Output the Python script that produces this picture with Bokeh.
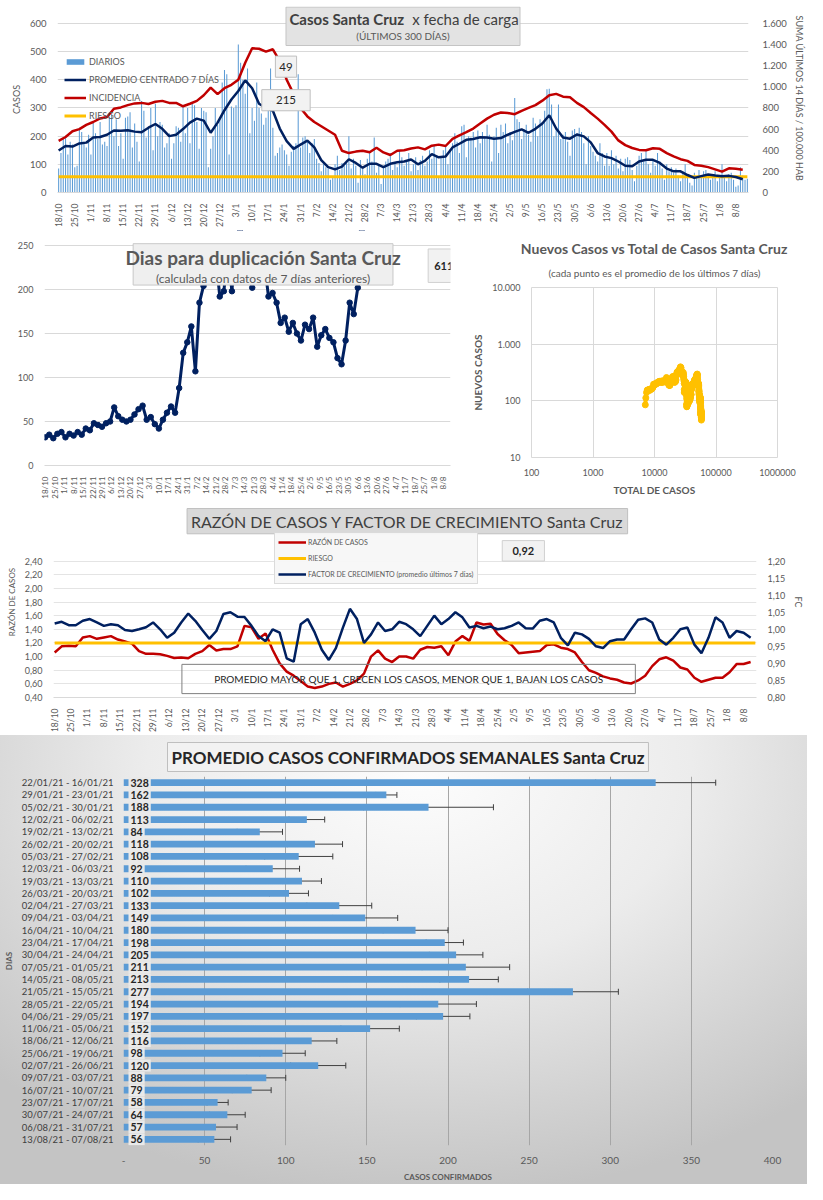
import math
import numpy as np
from bokeh.plotting import figure
from bokeh.models import (ColumnDataSource, LinearAxis, Range1d, FixedTicker, Label,
                          BoxAnnotation, Legend, LegendItem, Whisker, TeeHead, Title, FactorRange)
from bokeh.layouts import column, row
from bokeh.embed import file_html
from bokeh.resources import INLINE
from bokeh.core.properties import value

# ---------------- DATA ----------------
TICK_LABELS = ["18/10", "25/10", "1/11", "8/11", "15/11", "22/11", "29/11", "6/12", "13/12", "20/12",
               "27/12", "3/1", "10/1", "17/1", "24/1", "31/1", "7/2", "14/2", "21/2", "28/2",
               "7/3", "14/3", "21/3", "28/3", "4/4", "11/4", "18/4", "25/4", "2/5", "9/5",
               "16/5", "23/5", "30/5", "6/6", "13/6", "20/6", "27/6", "4/7", "11/7", "18/7",
               "25/7", "1/8", "8/8"]

# daily cases (one per day, 18/10/2020 ... 13/08/2021)
DIARIOS = [
    85, 140, 195, 200, 135, 180, 170,
    90, 95, 230, 215, 180, 160, 205,
    135, 250, 210, 190, 250, 170, 180,
    165, 270, 280, 200, 260, 165, 210,
    120, 265, 270, 285, 160, 245, 180,
    110, 325, 290, 195, 230, 300, 150,
    315, 200, 250, 240, 160, 175, 210,
    120, 175, 235, 230, 180, 310, 210,
    300, 175, 320, 310, 250, 155, 300,
    290, 285, 90, 155, 200, 300, 240,
    260, 390, 435, 420, 135, 305, 300,
    310, 525, 460, 400, 350, 440, 210,
    300, 255, 390, 300, 280, 240, 265,
    290, 440, 230, 130, 140, 160, 170,
    150, 135, 95, 145, 165, 175, 420,
    160, 195, 200, 180, 140, 175, 190,
    120, 105, 75, 100, 90, 85, 45,
    55, 100, 130, 80, 105, 95, 110,
    200, 85, 120, 95, 35, 115, 90,
    65, 120, 145, 110, 195, 70, 100,
    30, 95, 110, 120, 140, 80, 105,
    90, 150, 125, 95, 110, 140, 75,
    100, 125, 80, 115, 130, 95, 110,
    150, 120, 165, 130, 55, 125, 150,
    165, 100, 155, 175, 210, 180, 140,
    235, 240, 125, 200, 195, 215, 160,
    220, 175, 215, 200, 240, 205, 110,
    200, 230, 140, 240, 215, 245, 175,
    215, 185, 335, 260, 250, 190, 225,
    240, 205, 180, 265, 245, 200, 260,
    250, 290, 366, 368, 312, 200, 230,
    312, 190, 205, 215, 180, 130, 220,
    225, 210, 230, 215, 175, 100, 200,
    165, 145, 130, 110, 175, 140, 95,
    140, 95, 150, 100, 130, 85, 120,
    75, 120, 125, 115, 80, 40, 95,
    130, 140, 110, 150, 100, 70, 115,
    95, 140, 110, 85, 45, 100, 75,
    90, 70, 85, 60, 40, 75, 100,
    65, 35, 25, 70, 55, 80, 60,
    75, 80, 55, 45, 65, 75, 40,
    55, 100, 55, 40, 65, 70, 45,
    20, 25, 90, 60, 45, 49]

# series read every 3 days (day 0, 3, 6, ...)
PROMEDIO = [149, 165, 163, 174, 177, 195, 197, 205, 220, 219,
            221, 216, 214, 230, 243, 226, 200, 205, 225, 248,
            262, 255, 212, 248, 292, 330, 360, 398, 370, 315,
            300, 290, 227, 182, 155, 170, 184, 160, 115, 90,
            82, 92, 118, 105, 88, 102, 102, 90, 102, 107,
            110, 117, 100, 112, 136, 125, 128, 160, 173, 187,
            190, 196, 195, 191, 193, 205, 215, 224, 212, 226,
            245, 274, 227, 195, 191, 206, 199, 178, 140, 128,
            122, 110, 95, 93, 110, 116, 116, 105, 85, 75,
            75, 62, 52, 58, 64, 60, 58, 59, 55, 47]

INCIDENCIA = [488, 525, 579, 600, 640, 667, 701, 715, 792, 805,
              827, 843, 848, 837, 859, 867, 848, 848, 816, 840,
              867, 920, 992, 931, 987, 1019, 1067, 1227, 1365, 1360,
              1333, 1355, 1243, 1067, 933, 800, 720, 667, 627, 587,
              547, 395, 373, 387, 395, 381, 424, 379, 355, 395,
              400, 416, 427, 408, 443, 453, 440, 507, 541, 571,
              605, 653, 699, 736, 757, 752, 741, 773, 800, 827,
              869, 920, 933, 907, 901, 848, 808, 752, 699, 640,
              576, 493, 448, 421, 403, 400, 419, 413, 373, 341,
              315, 299, 261, 253, 240, 219, 197, 229, 224, 215]
RIESGO_INC = 150

DUPLICACION = [32, 35, 31, 36, 38, 32, 36, 34, 38, 35,
               42, 40, 48, 46, 44, 48, 50, 66, 56, 52,
               50, 52, 58, 64, 68, 52, 55, 47, 42, 52,
               60, 67, 60, 88, 128, 140, 158, 107, 185, 204,
               230, 260, 240, 192, 198, 240, 198, 260, 280, 240,
               215, 202, 230, 250, 230, 192, 196, 185, 162, 168,
               152, 162, 150, 142, 160, 155, 168, 135, 148, 155,
               145, 140, 122, 115, 142, 185, 172, 202, 611]

TOTAL_INICIAL = 7000

RAZON = [1.06, 1.15, 1.16, 1.15, 1.28, 1.30, 1.26, 1.28, 1.30, 1.25,
         1.22, 1.19, 1.08, 1.04, 1.04, 1.035, 1.01, 0.98, 0.985, 0.975,
         1.04, 1.08, 1.17, 1.09, 1.11, 1.11, 1.15, 1.45, 1.43, 1.26,
         1.34, 1.10, 0.90, 0.78, 0.72, 0.64, 0.56, 0.54, 0.56, 0.60,
         0.62, 0.56, 0.60, 0.65, 0.75, 1.00, 1.09, 0.97, 0.92, 1.00,
         1.00, 0.97, 1.10, 1.14, 1.13, 1.15, 1.02, 1.22, 1.30, 1.23,
         1.50, 1.47, 1.48, 1.33, 1.24, 1.17, 1.05, 1.06, 1.07, 1.08,
         1.17, 1.18, 1.13, 1.11, 1.06, 0.92, 0.80, 0.76, 0.71, 0.68,
         0.66, 0.62, 0.605, 0.65, 0.72, 0.86, 0.96, 0.99, 0.94, 0.84,
         0.81, 0.69, 0.63, 0.66, 0.69, 0.69, 0.77, 0.89, 0.89, 0.92]

FACTOR = [1.017, 1.022, 1.012, 1.012, 1.025, 1.030, 1.020, 1.010, 1.015, 1.012,
          0.998, 0.995, 1.000, 1.006, 1.020, 1.000, 0.975, 0.990, 1.020, 1.046,
          1.025, 0.998, 0.972, 0.995, 1.045, 1.050, 1.037, 1.036, 1.010, 0.980,
          0.965, 1.000, 0.990, 0.915, 0.905, 1.015, 1.030, 0.990, 0.940, 0.910,
          0.945, 1.005, 1.060, 1.030, 0.960, 0.985, 1.020, 0.995, 1.000, 1.022,
          1.015, 1.000, 0.980, 1.010, 1.040, 1.015, 1.030, 1.050, 1.035, 1.005,
          1.010, 1.003, 1.008, 1.000, 1.003, 1.010, 1.020, 1.003, 1.002, 1.025,
          1.030, 1.020, 0.975, 0.953, 0.990, 0.985, 0.972, 0.950, 0.945, 0.965,
          0.970, 0.970, 1.000, 1.028, 1.032, 1.020, 0.970, 0.955, 0.975, 1.000,
          1.005, 0.955, 0.930, 0.975, 1.035, 1.020, 0.975, 0.995, 0.990, 0.975]
RIESGO_RAZON = 1.20

SEMANAS = ["22/01/21 - 16/01/21", "29/01/21 - 23/01/21", "05/02/21 - 30/01/21", "12/02/21 - 06/02/21",
           "19/02/21 - 13/02/21", "26/02/21 - 20/02/21", "05/03/21 - 27/02/21", "12/03/21 - 06/03/21",
           "19/03/21 - 13/03/21", "26/03/21 - 20/03/21", "02/04/21 - 27/03/21", "09/04/21 - 03/04/21",
           "16/04/21 - 10/04/21", "23/04/21 - 17/04/21", "30/04/21 - 24/04/21", "07/05/21 - 01/05/21",
           "14/05/21 - 08/05/21", "21/05/21 - 15/05/21", "28/05/21 - 22/05/21", "04/06/21 - 29/05/21",
           "11/06/21 - 05/06/21", "18/06/21 - 12/06/21", "25/06/21 - 19/06/21", "02/07/21 - 26/06/21",
           "09/07/21 - 03/07/21", "16/07/21 - 10/07/21", "23/07/21 - 17/07/21", "30/07/21 - 24/07/21",
           "06/08/21 - 31/07/21", "13/08/21 - 07/08/21"]
PROM_SEMANAL = [328, 162, 188, 113, 84, 118, 108, 92, 110, 102, 133, 149, 180, 198, 205,
                211, 213, 277, 194, 197, 152, 116, 98, 120, 88, 79, 58, 64, 57, 56]
ERR_SEMANAL = [37, 6.5, 40, 11, 14, 17, 21, 16.5, 12, 12, 20, 20, 20, 11.5, 16.5,
               27, 18, 28, 23.5, 16.5, 18, 15.5, 14, 17, 12, 12, 6.5, 11, 13, 10]

# ---------------- STYLE ----------------
FONT = "Lato"
GRAY_TXT = "#595959"
DARK_TXT = "#404040"
GRID = "#d9d9d9"
BLUE_BAR = "#5B9BD5"
NAVY = "#002060"
RED = "#C00000"
YELLOW = "#FFC000"

N = len(DIARIOS)
dias = list(range(N))
d3 = [3 * i for i in range(len(PROMEDIO))]
date_ticks = [7 * i for i in range(len(TICK_LABELS))]


def base_fig(**kw):
    p = figure(output_backend="svg", toolbar_location=None, **kw)
    p.outline_line_color = None
    p.background_fill_color = "white"
    p.border_fill_color = "white"
    try:
        p.frame_align = False
    except Exception:
        pass
    return p


def style_axis(ax, size="9px"):
    ax.major_label_text_font = FONT
    ax.major_label_text_font_size = size
    ax.major_label_text_color = GRAY_TXT
    ax.axis_label_text_font = FONT
    ax.axis_label_text_color = GRAY_TXT
    ax.axis_label_text_font_style = "normal"
    ax.axis_label_text_font_size = "9px"
    ax.major_tick_line_color = None
    ax.minor_tick_line_color = None
    ax.axis_line_color = None


def date_axis(p, size="8.5px"):
    ax = p.xaxis[0]
    ax.ticker = FixedTicker(ticks=date_ticks)
    ax.major_label_overrides = {t: l for t, l in zip(date_ticks, TICK_LABELS)}
    ax.major_label_orientation = math.pi / 2
    style_axis(ax, size)
    ax.axis_line_color = GRID
    p.xgrid.visible = False


def frame_box(p, left, right, bottom, top, fill="#f2f2f2", border="#bfbfbf"):
    p.add_layout(BoxAnnotation(left=left, right=right, bottom=bottom, top=top,
                               fill_color=fill if fill else "white", fill_alpha=1 if fill else 0,
                               line_color=border if border else "white", line_alpha=1 if border else 0,
                               line_width=1))


def text_box(p, left, right, bottom, top, text, size="11px", bold=False, fill="#f2f2f2",
             border="#bfbfbf", color="#262626"):
    """A framed callout: a box and its centered text."""
    frame_box(p, left, right, bottom, top, fill, border)
    p.add_layout(Label(x=(left + right) / 2, y=(bottom + top) / 2, text=text, text_align="center",
                       text_baseline="middle", text_font=FONT, text_font_size=size, text_color=color,
                       text_font_style="bold" if bold else "normal"))


# ---------------- P1: Casos ----------------
p1 = base_fig(width=807, height=230, x_range=Range1d(-0.5, N - 0.5), y_range=Range1d(0, 660),
              min_border_left=57, min_border_right=50, min_border_top=6, min_border_bottom=30)
p1.extra_y_ranges = {"inc": Range1d(0, 660 * 1600 / 600)}
r_bar = p1.vbar(x=dias, top=DIARIOS, width=0.45, fill_color=BLUE_BAR, line_color=None)
r_inc = p1.line(d3, INCIDENCIA, y_range_name="inc", line_color=RED, line_width=2.5)
r_riesgo = p1.line([dias[0], dias[-1]], [RIESGO_INC, RIESGO_INC], y_range_name="inc",
                   line_color=YELLOW, line_width=3)
r_prom = p1.line(d3, PROMEDIO, line_color=NAVY, line_width=2.5)

date_axis(p1)
lax = p1.yaxis[0]
lax.ticker = FixedTicker(ticks=list(range(0, 601, 100)))
lax.bounds = (0, 600)
lax.axis_label = "CASOS"
style_axis(lax, "9.5px")
p1.ygrid.ticker = FixedTicker(ticks=list(range(0, 601, 100)))
p1.ygrid.grid_line_color = GRID

rticks = list(range(0, 1601, 200))
rax = LinearAxis(y_range_name="inc", ticker=FixedTicker(ticks=rticks), bounds=(0, 1600),
                 axis_label="SUMA  ÚLTIMOS 14 DÍAS / 100.000 HAB")
rax.major_label_overrides = {t: f"{t:,}".replace(",", ".") for t in rticks}
style_axis(rax, "9.5px")
rax.major_label_standoff = 8
rax.axis_label_standoff = 4
p1.add_layout(rax, "right")

leg1 = Legend(items=[LegendItem(label="DIARIOS", renderers=[r_bar]),
                     LegendItem(label="PROMEDIO CENTRADO 7 DÍAS", renderers=[r_prom]),
                     LegendItem(label="INCIDENCIA", renderers=[r_inc]),
                     LegendItem(label="RIESGO", renderers=[r_riesgo])],
              location=(7, 70), padding=0, margin=0, spacing=4, label_height=14, glyph_height=7,
              glyph_width=22, label_standoff=3, background_fill_alpha=0, border_line_color=None,
              label_text_font=FONT, label_text_font_size="9px", label_text_color=GRAY_TXT)
p1.add_layout(leg1)

frame_box(p1, 98.7, 200.3, 521.6, 658, fill="#e3e3e3", border="#c4c4c4")
p1.add_layout(Label(x=100.2, y=614, text="Casos  Santa  Cruz", text_font=FONT, text_font_size="15px",
                    text_font_style="bold", text_color=DARK_TXT, text_baseline="middle", text_align="left"))
p1.add_layout(Label(x=153.5, y=614, text="x fecha de carga", text_font=FONT, text_font_size="15px",
                    text_color=DARK_TXT, text_baseline="middle", text_align="left"))
p1.add_layout(Label(x=149.5, y=556, text="(ÚLTIMOS 300 DÍAS)", text_font=FONT, text_font_size="10px",
                    text_color=GRAY_TXT, text_baseline="middle", text_align="center"))
text_box(p1, 94.1, 103.3, 409, 484, str(DIARIOS[-1]), size="11.5px")
text_box(p1, 88.2, 109.2, 290, 365, str(INCIDENCIA[-1]), size="11.5px")

# ---------------- P2: duplicacion ----------------
DUP_TOP = 267
dd = [3 * i for i in range(len(DUPLICACION))]
dup_visible = np.minimum(np.array(DUPLICACION, dtype=float), DUP_TOP - 1)  # off-scale values sit at the top
p2 = base_fig(width=462, height=273, x_range=Range1d(-0.5, N - 0.5), y_range=Range1d(0, DUP_TOP),
              min_border_left=44, min_border_right=12, min_border_top=0, min_border_bottom=38)
p2.line(dd, dup_visible, line_color=NAVY, line_width=3)
p2.scatter(dd, dup_visible, size=5.5, fill_color=NAVY, line_color=NAVY)
date_axis(p2, "8px")
ax2 = p2.yaxis[0]
ax2.ticker = FixedTicker(ticks=list(range(0, 251, 50)))
style_axis(ax2, "9px")
p2.ygrid.ticker = FixedTicker(ticks=list(range(0, 251, 50)))
p2.ygrid.grid_line_color = GRID
# off-scale values are hidden behind the title panel, as in the original
frame_box(p2, 60, 262, 250.5, DUP_TOP, fill="white", border=None)
frame_box(p2, 65, 257, 205, 252, fill="#efefef", border="#c8c8c8")
p2.add_layout(Label(x=161, y=236, text="Dias para duplicación Santa Cruz", text_font=FONT,
                    text_font_size="19px", text_font_style="bold", text_color=GRAY_TXT,
                    text_align="center", text_baseline="middle"))
p2.add_layout(Label(x=161, y=213, text="(calculada con datos de 7 días anteriores)", text_font=FONT,
                    text_font_size="12px", text_color=GRAY_TXT, text_align="center", text_baseline="middle"))
text_box(p2, 283, 306, 208, 246, str(DUPLICACION[-1]), size="11px", bold=True, border="#d0d0d0")

# ---------------- P3: scatter log-log ----------------
arr = np.array(DIARIOS, dtype=float)
total = TOTAL_INICIAL + np.cumsum(arr)
nuevos = np.array([arr[max(0, i - 6):i + 1].mean() for i in range(len(arr))])
p3 = base_fig(width=345, height=273, x_axis_type="log", y_axis_type="log",
              x_range=Range1d(100, 1e6), y_range=Range1d(10, 1e4),
              min_border_left=69, min_border_right=30, min_border_top=57, min_border_bottom=46)
p3.outline_line_color = GRID
p3.line(total, nuevos, line_color=YELLOW, line_width=4)
p3.scatter(total, nuevos, size=6, fill_color=YELLOW, line_color=YELLOW)
xt = [100, 1000, 10000, 100000, 1000000]
yt = [10, 100, 1000, 10000]
p3.xaxis[0].ticker = FixedTicker(ticks=xt)
p3.xaxis[0].major_label_overrides = {t: str(t) for t in xt}
p3.yaxis[0].ticker = FixedTicker(ticks=yt)
p3.yaxis[0].major_label_overrides = {t: f"{t:,}".replace(",", ".") for t in yt}
for ax in (p3.xaxis[0], p3.yaxis[0]):
    style_axis(ax, "9px")
    ax.axis_label_text_font_style = "bold"
    ax.axis_label_text_font_size = "10px"
p3.xaxis[0].axis_label = "TOTAL DE CASOS"
p3.yaxis[0].axis_label = "NUEVOS CASOS"
p3.xgrid.ticker = FixedTicker(ticks=xt)
p3.ygrid.ticker = FixedTicker(ticks=yt)
p3.xgrid.grid_line_color = GRID
p3.ygrid.grid_line_color = GRID
p3.title.text = "Nuevos Casos vs Total de Casos Santa Cruz"
p3.title.align = "center"
p3.title.offset = -19
p3.title.standoff = 0
p3.title.text_font = FONT
p3.title.text_font_size = "14px"
p3.title.text_font_style = "bold"
p3.title.text_color = GRAY_TXT
p3.add_layout(Title(text="(cada punto es el promedio de los últimos 7 días)", align="center", offset=-19,
                    standoff=17, text_font=FONT, text_font_size="10px", text_font_style="normal",
                    text_color=GRAY_TXT), "above")

# ---------------- P4: razon / factor ----------------
p4 = base_fig(width=807, height=232, x_range=Range1d(-0.5, N - 0.5), y_range=Range1d(0.4, 3.2),
              min_border_left=53, min_border_right=50, min_border_top=3, min_border_bottom=33)
p4.extra_y_ranges = {"fc": Range1d(0.8, 0.8 + (3.2 - 0.4) * 0.2)}
r_razon = p4.line(d3, RAZON, line_color=RED, line_width=2.5)
r_riesgo4 = p4.line([dias[0], dias[-1]], [RIESGO_RAZON, RIESGO_RAZON], line_color=YELLOW, line_width=3)
r_fc = p4.line(d3, FACTOR, y_range_name="fc", line_color=NAVY, line_width=2.5)
date_axis(p4)
lt = [round(0.4 + 0.2 * i, 2) for i in range(11)]
ax4 = p4.yaxis[0]
ax4.ticker = FixedTicker(ticks=lt)
ax4.major_label_overrides = {t: f"{t:.2f}".replace(".", ",") for t in lt}
ax4.bounds = (0.4, 2.4)
ax4.axis_label = "RAZÓN DE CASOS"
style_axis(ax4, "9px")
ax4.axis_label_text_font_size = "8px"
p4.ygrid.ticker = FixedTicker(ticks=lt)
p4.ygrid.grid_line_color = "#e4e4e4"
rt = [round(0.8 + 0.05 * i, 2) for i in range(9)]
rax4 = LinearAxis(y_range_name="fc", ticker=FixedTicker(ticks=rt), bounds=(0.8, 1.2), axis_label="FC")
rax4.major_label_overrides = {t: f"{t:.2f}".replace(".", ",") for t in rt}
style_axis(rax4, "9px")
p4.add_layout(rax4, "right")

leg4 = Legend(items=[LegendItem(label="RAZÓN DE CASOS", renderers=[r_razon]),
                     LegendItem(label="RIESGO", renderers=[r_riesgo4]),
                     LegendItem(label="FACTOR DE CRECIMIENTO (promedio últimos 7 días)", renderers=[r_fc])],
              location=(221, 113), padding=3, margin=0, spacing=4, label_height=12, glyph_height=12,
              glyph_width=28, label_standoff=2, background_fill_color="#f7f7f7", border_line_color="#bfbfbf",
              label_text_font=FONT, label_text_font_size="7px", label_text_color=GRAY_TXT)
p4.add_layout(leg4)
text_box(p4, 56.5, 244.5, 2.80, 3.17, "RAZÓN DE CASOS Y FACTOR DE CRECIMIENTO Santa Cruz", size="16px",
         fill="#d9d9d9", border="#bfbfbf", color=DARK_TXT)
text_box(p4, 191, 209, 2.40, 2.70, f"{RAZON[-1]:.2f}".replace(".", ","), size="11px", bold=True,
         border="#d0d0d0")
text_box(p4, 54.3, 247.8, 0.457, 0.886,
         "PROMEDIO MAYOR QUE 1, CRECEN LOS CASOS, MENOR QUE 1, BAJAN LOS CASOS",
         size="10px", fill=None, border="#7f7f7f")

# ---------------- P5: semanal ----------------
p5 = base_fig(width=807, height=449, y_range=FactorRange(factors=SEMANAS[::-1]), x_range=Range1d(0, 400),
              min_border_left=118, min_border_right=35, min_border_top=41, min_border_bottom=35)
p5.background_fill_color = None
p5.border_fill_color = None
p5.styles = {"background": "radial-gradient(ellipse 75% 95% at 52% 8%, #fdfdfd 0%, #ececec 45%, "
                           "#d2d2d2 80%, #c4c4c4 100%)"}
src5 = ColumnDataSource(dict(semana=SEMANAS, prom=PROM_SEMANAL,
                             lower=[v - e for v, e in zip(PROM_SEMANAL, ERR_SEMANAL)],
                             upper=[v + e for v, e in zip(PROM_SEMANAL, ERR_SEMANAL)],
                             lab=[str(v) for v in PROM_SEMANAL]))
p5.hbar(y="semana", left=0, right="prom", height=0.55, source=src5, fill_color=BLUE_BAR, line_color=None)
p5.text(x=0, y="semana", text="lab", source=src5, x_offset=5, text_align="left", text_baseline="middle",
        text_font=value(FONT), text_font_size="10.5px", text_font_style="bold", text_color="#262626",
        background_fill_color="#e9e9e9", padding=2)
p5.add_layout(Whisker(source=src5, base="semana", lower="lower", upper="upper", dimension="width",
                      line_color="#404040", line_width=1,
                      upper_head=TeeHead(size=6, line_color="#404040"),
                      lower_head=TeeHead(size=6, line_color="#404040")))
xt5 = list(range(0, 401, 50))
ax5x = p5.xaxis[0]
ax5x.ticker = FixedTicker(ticks=xt5)
ax5x.major_label_overrides = {0: "-"}
style_axis(ax5x, "10px")
ax5x.axis_label = "CASOS CONFIRMADOS"
ax5x.axis_label_text_font_style = "bold"
ax5x.axis_label_text_font_size = "8px"
ax5y = p5.yaxis[0]
style_axis(ax5y, "9.5px")
ax5y.major_label_text_color = DARK_TXT
ax5y.major_label_standoff = 4
ax5y.axis_label = "DIAS"
ax5y.axis_label_text_font_style = "bold"
ax5y.axis_label_text_font_size = "8px"
p5.xgrid.ticker = FixedTicker(ticks=xt5)
p5.xgrid.grid_line_color = "#a6a6a6"
p5.ygrid.visible = False
p5.title.text = "PROMEDIO CASOS CONFIRMADOS SEMANALES Santa Cruz"
p5.title.align = "left"
p5.title.offset = 44
p5.title.text_font = FONT
p5.title.text_font_size = "17px"
p5.title.text_font_style = "bold"
p5.title.text_color = "#262626"
p5.title.background_fill_color = "#f2f2f2"
p5.title.border_line_color = "#bfbfbf"
try:
    p5.title.padding = 4
except Exception:
    pass

layout = column(p1, row(p2, p3), p4, p5)
open("out.html", "w").write(file_html(layout, INLINE))
